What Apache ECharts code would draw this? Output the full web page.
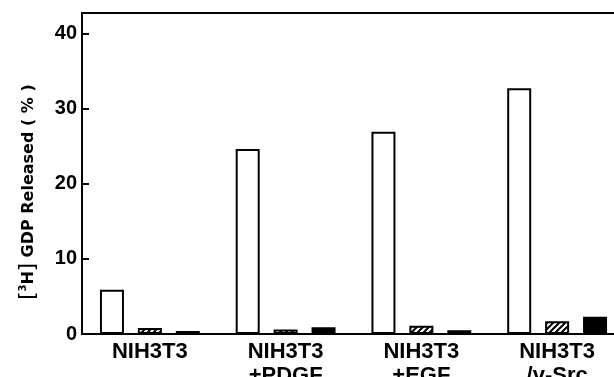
<!DOCTYPE html>
<html>
<head>
<meta charset="utf-8">
<script src="https://cdn.jsdelivr.net/npm/echarts@6/dist/echarts.min.js"></script>
<style>
html,body{margin:0;padding:0;background:#fff;}
#c{width:614px;height:377px;}
</style>
</head>
<body>
<div id="c"></div>
<script>
const categories = ['NIH3T3', 'NIH3T3\n+PDGF', 'NIH3T3\n+EGF', 'NIH3T3\n/v-Src'];
const openValues = [5.9, 24.6, 26.9, 32.7];
const hatchedValues = [0.8, 0.6, 1.1, 1.7];
const solidValues = [0.4, 0.9, 0.5, 2.3];
const yTicks = [0, 10, 20, 30, 40];
const yMax = 42.7;

function hatchPattern() {
  const s = 6;
  const cv = document.createElement('canvas');
  cv.width = s; cv.height = s;
  const ctx = cv.getContext('2d');
  ctx.fillStyle = '#fff';
  ctx.fillRect(0, 0, s, s);
  ctx.strokeStyle = '#000';
  ctx.lineWidth = 2;
  ctx.beginPath();
  ctx.moveTo(-1, s + 1); ctx.lineTo(s + 1, -1);
  ctx.moveTo(-1, 1); ctx.lineTo(1, -1);
  ctx.moveTo(s - 1, s + 1); ctx.lineTo(s + 1, s - 1);
  ctx.stroke();
  return cv;
}

const chart = echarts.init(document.getElementById('c'), null, {renderer: 'canvas'});
const font = '"Liberation Sans", Arial, Helvetica, sans-serif';
const titleFont = '"DejaVu Sans", sans-serif';
chart.setOption({
  animation: false,
  backgroundColor: '#fff',
  grid: {
    left: 82, top: 13, bottom: 43, right: -11,
    outerBoundsMode: 'none',
    containLabel: false,
    show: true, borderColor: '#000', borderWidth: 2, backgroundColor: 'transparent'
  },
  xAxis: {
    type: 'category',
    data: categories,
    axisLine: {lineStyle: {color: '#000', width: 2}},
    axisTick: {show: false},
    axisLabel: {
      color: '#000', fontFamily: font, fontWeight: 'bold', fontSize: 22,
      lineHeight: 24, margin: 6, interval: 0
    }
  },
  yAxis: {
    type: 'value',
    min: 0, max: yMax,
    splitLine: {show: false},
    axisLine: {show: true, lineStyle: {color: '#000', width: 2}},
    axisTick: {show: true, inside: true, length: 7, lineStyle: {color: '#000', width: 2}, customValues: yTicks},
    axisLabel: {
      color: '#000', fontFamily: font, fontWeight: 'bold', fontSize: 20, margin: 5,
      customValues: yTicks
    }
  },
  graphic: [{
    type: 'text',
    x: 29, y: 192,
    rotation: Math.PI / 2,
    style: {
      text: '{b|[}{s|3}H{b|]} GDP Released ( % )',
      align: 'center', verticalAlign: 'middle',
      fill: '#000',
      font: 'bold 16px ' + titleFont,
      rich: {
        b: {fontSize: 21, fontWeight: 'normal', fontFamily: titleFont},
        s: {fontSize: 10, fontWeight: 'bold', fontFamily: titleFont, verticalAlign: 'top', padding: [0, 0, 8, 0]}
      }
    }
  }],
  series: [
    {
      type: 'bar', data: openValues, barWidth: 24, barGap: '58%',
      itemStyle: {color: '#fff', borderColor: '#000', borderWidth: 2}
    },
    {
      type: 'bar', data: hatchedValues, barWidth: 24, barGap: '58%',
      itemStyle: {color: {image: hatchPattern(), repeat: 'repeat'}, borderColor: '#000', borderWidth: 2}
    },
    {
      type: 'bar', data: solidValues, barWidth: 24, barGap: '58%',
      itemStyle: {color: '#000', borderColor: '#000', borderWidth: 2}
    }
  ]
});
</script>
</body>
</html>
